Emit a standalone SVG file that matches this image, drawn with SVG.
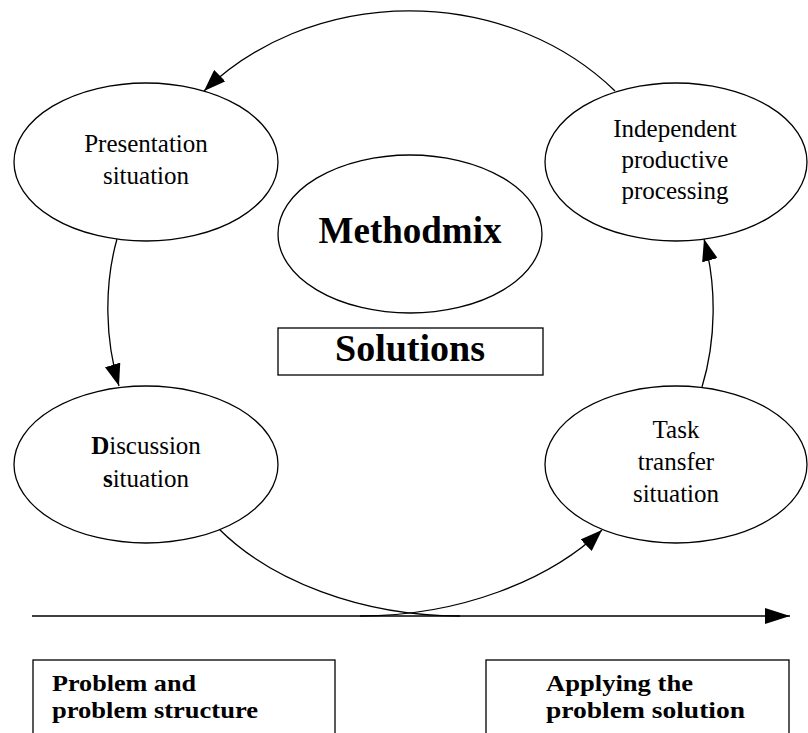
<svg xmlns="http://www.w3.org/2000/svg" width="808" height="733" viewBox="0 0 808 733">
<style>
.node{fill:#fff;stroke:#000;stroke-width:1.3}
.box{fill:#fff;stroke:#000;stroke-width:1.3}
.t{font-family:"Liberation Serif","Times New Roman",serif;font-size:25px;fill:#000;text-anchor:middle}
.b{font-family:"Liberation Serif","Times New Roman",serif;font-weight:bold;fill:#000}
.c{fill:none;stroke:#000;stroke-width:1.3}
</style>
<defs>
<marker id="ah" markerUnits="userSpaceOnUse" viewBox="0 0 22 16" refX="22" refY="8" markerWidth="22" markerHeight="16" orient="auto">
<path d="M0,0 L22,8 L0,16 z" fill="#000"/>
</marker>
<marker id="ax" markerUnits="userSpaceOnUse" viewBox="0 0 25 16" refX="25" refY="8" markerWidth="25" markerHeight="16" orient="auto">
<path d="M0,0 L25,8 L0,16 z" fill="#000"/>
</marker>
</defs>
<g id="connectors">
<path class="c" d="M615,91 A275,239 0 0 0 204,91" marker-end="url(#ah)"/>
<path class="c" d="M117,239 C104,285 105,340 119,386" marker-end="url(#ah)"/>
<path class="c" d="M702,387 C716,341 717,286 704,239" marker-end="url(#ah)"/>
<path class="c" d="M219,529 C270,580 360,616 460,616"/>
<path class="c" d="M360,616 C460,616 550,580 602,530" marker-end="url(#ah)"/>
<path class="c" d="M32,616 L790,616" marker-end="url(#ax)"/>
</g>
<g id="presentation">
<ellipse class="node" cx="146" cy="162" rx="132" ry="79"/>
<text class="t" x="146" y="152">Presentation</text>
<text class="t" x="146" y="184">situation</text>
</g>
<g id="independent">
<ellipse class="node" cx="676" cy="162" rx="131" ry="79"/>
<text class="t" x="675" y="137">Independent</text>
<text class="t" x="675" y="168">productive</text>
<text class="t" x="675" y="199">processing</text>
</g>
<g id="methodmix">
<ellipse class="node" cx="410" cy="234" rx="132" ry="79"/>
<text class="b" x="410" y="243" font-size="37" text-anchor="middle">Methodmix</text>
</g>
<g id="solutions">
<rect class="box" x="278" y="328" width="265" height="47"/>
<text class="b" x="410" y="361" font-size="38" text-anchor="middle">Solutions</text>
</g>
<g id="discussion">
<ellipse class="node" cx="146" cy="464.5" rx="132" ry="78.5"/>
<text class="t" x="146" y="454"><tspan font-weight="bold">D</tspan>iscussion</text>
<text class="t" x="146" y="487"><tspan font-weight="bold">s</tspan>ituation</text>
</g>
<g id="task">
<ellipse class="node" cx="676" cy="464.5" rx="131" ry="78.5"/>
<text class="t" x="676" y="438">Task</text>
<text class="t" x="676" y="470">transfer</text>
<text class="t" x="676" y="502">situation</text>
</g>
<g id="problem">
<rect class="box" x="33" y="660" width="302" height="90"/>
<text class="b" x="52" y="691" font-size="24" textLength="144" lengthAdjust="spacingAndGlyphs">Problem and</text>
<text class="b" x="52" y="718" font-size="24" textLength="206" lengthAdjust="spacingAndGlyphs">problem structure</text>
</g>
<g id="applying">
<rect class="box" x="486" y="660" width="303" height="90"/>
<text class="b" x="546" y="691" font-size="24" textLength="147" lengthAdjust="spacingAndGlyphs">Applying the</text>
<text class="b" x="546" y="718" font-size="24" textLength="199" lengthAdjust="spacingAndGlyphs">problem solution</text>
</g>
</svg>
